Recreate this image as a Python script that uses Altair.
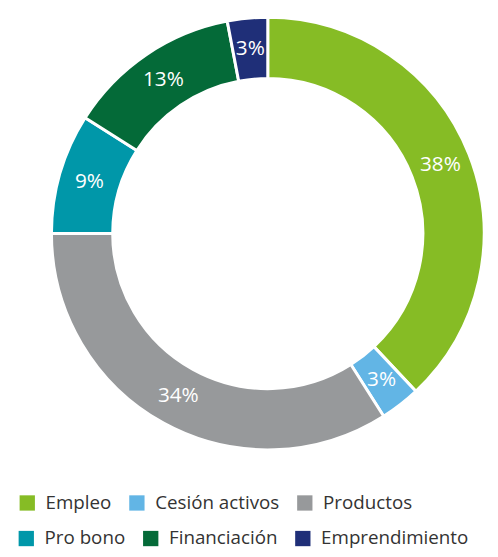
import altair as alt
import pandas as pd

categories = ["Empleo", "Cesión activos", "Productos", "Pro bono", "Financiación", "Emprendimiento"]
values = [38, 3, 34, 9, 13, 3]
labels = ["38%", "3%", "34%", "9%", "13%", "3%"]
colors = ["#86bc25", "#62b5e5", "#97999b", "#0097a9", "#046a38", "#1f2f78"]

df = pd.DataFrame({"cat": categories, "val": values, "label": labels, "idx": list(range(len(categories)))})

CX, CY, R_OUT, R_IN, R_TXT = 263, 222, 219, 157, 188

base = alt.Chart(df).transform_window(
    end="sum(val)", sort=[alt.SortField("idx")], frame=[None, 0]
).transform_calculate(start="datum.end - datum.val", mid="datum.end - datum.val / 2")

theta_scale = alt.Scale(domain=[0, 100])


def legend(x, y):
    return alt.Legend(
        title=None,
        orient="none",
        legendX=x,
        legendY=y,
        direction="horizontal",
        symbolType="square",
        symbolSize=240,
        symbolStrokeWidth=0,
        labelFontSize=19,
        labelFont="Open Sans",
        labelColor="#333333",
        labelOffset=9,
        columnPadding=16,
        padding=0,
    )


arc_kw = dict(outerRadius=R_OUT, innerRadius=R_IN, stroke="white", strokeWidth=3)

arc1 = base.transform_filter("datum.idx < 3").mark_arc(**arc_kw).encode(
    theta=alt.Theta("start:Q", scale=theta_scale),
    theta2=alt.Theta2("end:Q"),
    x=alt.value(CX),
    y=alt.value(CY),
    color=alt.Color("cat:N", scale=alt.Scale(domain=categories[:3], range=colors[:3]), legend=legend(10, 485)),
)

arc2 = base.transform_filter("datum.idx >= 3").mark_arc(**arc_kw).encode(
    theta=alt.Theta("start:Q", scale=theta_scale),
    theta2=alt.Theta2("end:Q"),
    x=alt.value(CX),
    y=alt.value(CY),
    fill=alt.Fill("cat:N", scale=alt.Scale(domain=categories[3:], range=colors[3:]), legend=legend(9, 521)),
)

text = base.mark_text(radius=R_TXT, fontSize=21, color="white", font="Open Sans").encode(
    theta=alt.Theta("mid:Q", scale=theta_scale),
    x=alt.value(CX),
    y=alt.value(CY),
    text="label:N",
)

chart = alt.layer(arc1, arc2, text).properties(width=482, height=541, padding=0).configure_view(stroke=None)

chart.save("out.html", embed_options={"renderer": "svg", "actions": False})
